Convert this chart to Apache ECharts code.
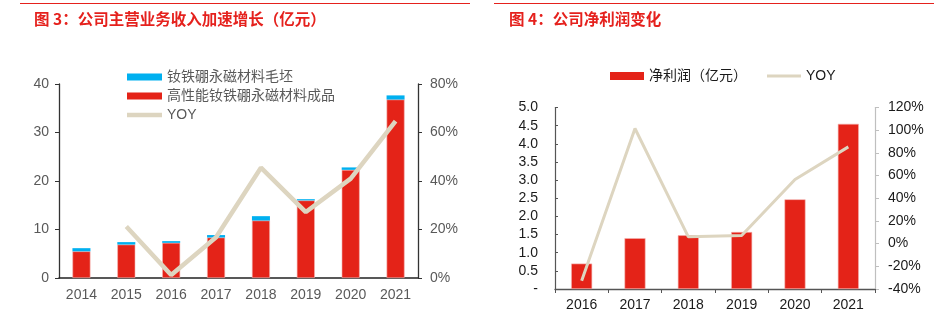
<!DOCTYPE html>
<html>
<head>
<meta charset="utf-8">
<script src="https://cdn.jsdelivr.net/npm/echarts/dist/echarts.min.js"></script>
<style>
html, body { margin: 0; padding: 0; background: #fff; }
#main { width: 934px; height: 321px; }
</style>
</head>
<body>
<div id="main"></div>
<script>
// Figure 3: main business revenue (100M CNY), stacked by product type, with YoY growth
const revenueYears = ['2014', '2015', '2016', '2017', '2018', '2019', '2020', '2021'];
const finishedValues = [5.5, 6.9, 7.25, 8.35, 11.85, 16.0, 22.3, 36.8];
const blankValues = [0.65, 0.5, 0.35, 0.5, 0.9, 0.25, 0.5, 0.85];
const revenueYoy = [null, 21.2, 1.2, 16.8, 45.5, 27.2, 41.0, 64.7];

// Figure 4: net profit (100M CNY) with YoY growth
const profitYears = ['2016', '2017', '2018', '2019', '2020', '2021'];
const netProfit = [0.7, 1.40, 1.48, 1.57, 2.47, 4.55];
const profitYoy = [-32.8, 101.5, 6.0, 7.2, 56.6, 85.3];

const RED = '#e42318';
const BLUE = '#00b0f0';
const TAN = '#ddd5c0';
const FONT = '"Liberation Sans", Arial, "Noto Sans CJK SC", sans-serif';
const GREY_TEXT = '#595959';
const DARK_TEXT = '#1a1a1a';

// thin horizontal bar used as the legend key for the growth lines
const lineKey = w => 'path://M0,0H35V' + w + 'H0Z';

const chart = echarts.init(document.getElementById('main'), null, { renderer: 'canvas' });

chart.setOption({
  animation: false,
  textStyle: { fontFamily: FONT },
  title: [
    {
      text: '图 3：公司主营业务收入加速增长（亿元）',
      left: 29, top: 6,
      textStyle: { color: '#e5211d', fontSize: 15.5, fontWeight: 'bold', fontFamily: '"Noto Sans CJK SC", sans-serif' }
    },
    {
      text: '图 4：公司净利润变化',
      left: 504, top: 6,
      textStyle: { color: '#e5211d', fontSize: 15.5, fontWeight: 'bold', fontFamily: '"Noto Sans CJK SC", sans-serif' }
    }
  ],
  graphic: [
    { type: 'line', shape: { x1: 20, y1: 3.5, x2: 470, y2: 3.5 }, style: { stroke: '#e5211d', lineWidth: 1.2 } },
    { type: 'line', shape: { x1: 494, y1: 3.5, x2: 934, y2: 3.5 }, style: { stroke: '#e5211d', lineWidth: 1.2 } }
  ],
  legend: [
    {
      orient: 'vertical',
      left: 122, top: 65,
      itemWidth: 35, itemHeight: 7, itemGap: 5,
      itemStyle: { borderWidth: 0 },
      textStyle: { color: GREY_TEXT, fontSize: 14, fontFamily: FONT },
      data: [
        { name: '钕铁硼永磁材料毛坯', icon: 'rect' },
        { name: '高性能钕铁硼永磁材料成品', icon: 'rect' },
        { name: 'YOY', icon: lineKey(4.5), itemStyle: { color: TAN, borderWidth: 0 } }
      ]
    },
    {
      orient: 'horizontal',
      left: 605, top: 64,
      itemWidth: 34, itemHeight: 8, itemGap: 20,
      itemStyle: { borderWidth: 0 },
      textStyle: { color: DARK_TEXT, fontSize: 14, fontFamily: FONT },
      data: [
        { name: '净利润（亿元）', icon: 'rect' },
        { name: 'YOY', icon: lineKey(3), itemStyle: { color: TAN, borderWidth: 0 } }
      ]
    }
  ],
  grid: [
    { left: 59, top: 84, width: 359, height: 194 },
    { left: 555, top: 107.5, width: 320, height: 181.5 }
  ],
  xAxis: [
    {
      type: 'category', gridIndex: 0, data: revenueYears,
      axisLine: { lineStyle: { color: '#222', width: 1.5 } },
      axisTick: { show: false },
      axisLabel: { color: GREY_TEXT, fontSize: 14, margin: 10 }
    },
    {
      type: 'category', gridIndex: 1, data: profitYears,
      axisLine: { lineStyle: { color: '#555', width: 1.3 } },
      axisTick: { show: true, length: 4, lineStyle: { color: '#555' } },
      axisLabel: { color: DARK_TEXT, fontSize: 14, margin: 9 }
    }
  ],
  yAxis: [
    {
      type: 'value', gridIndex: 0, position: 'left', min: 0, max: 40, interval: 10,
      axisLine: { show: true, lineStyle: { color: '#333', width: 1.3 } },
      axisTick: { show: true, length: 4, lineStyle: { color: '#333' } },
      splitLine: { show: false },
      axisLabel: { color: GREY_TEXT, fontSize: 14, margin: 10 }
    },
    {
      type: 'value', gridIndex: 0, position: 'right', min: 0, max: 80, interval: 20,
      axisLine: { show: true, lineStyle: { color: '#333', width: 1.3 } },
      axisTick: { show: true, length: 4, lineStyle: { color: '#333' } },
      splitLine: { show: false },
      axisLabel: { color: GREY_TEXT, fontSize: 14, margin: 12, formatter: '{value}%' }
    },
    {
      type: 'value', gridIndex: 1, position: 'left', min: 0, max: 5, interval: 0.5,
      axisLine: { show: true, lineStyle: { color: '#555', width: 1.2 } },
      axisTick: { show: true, inside: true, length: 3, lineStyle: { color: '#555' } },
      splitLine: { show: false },
      axisLabel: {
        color: DARK_TEXT, fontSize: 14, margin: 17,
        formatter: v => (v === 0 ? '-' : v.toFixed(1))
      }
    },
    {
      type: 'value', gridIndex: 1, position: 'right', min: -40, max: 120, interval: 20,
      axisLine: { show: true, lineStyle: { color: '#bfbfbf', width: 1.2 } },
      axisTick: { show: true, length: 4, lineStyle: { color: '#bfbfbf' } },
      splitLine: { show: false },
      axisLabel: { color: DARK_TEXT, fontSize: 14, margin: 13, formatter: '{value}%' }
    }
  ],
  series: [
    {
      name: '高性能钕铁硼永磁材料成品', type: 'bar', stack: 'revenue',
      xAxisIndex: 0, yAxisIndex: 0, barWidth: 18,
      itemStyle: { color: RED, borderColor: '#f4b3b0', borderWidth: 0.6 },
      data: finishedValues
    },
    {
      name: '钕铁硼永磁材料毛坯', type: 'bar', stack: 'revenue',
      xAxisIndex: 0, yAxisIndex: 0, barWidth: 18,
      itemStyle: { color: BLUE },
      data: blankValues
    },
    {
      name: 'YOY', type: 'line', xAxisIndex: 0, yAxisIndex: 1,
      symbol: 'none', lineStyle: { color: TAN, width: 4.5 }, itemStyle: { color: TAN },
      data: revenueYoy
    },
    {
      name: '净利润（亿元）', type: 'bar', xAxisIndex: 1, yAxisIndex: 2, barWidth: 21,
      itemStyle: { color: RED, borderColor: '#f4b3b0', borderWidth: 0.6 },
      data: netProfit
    },
    {
      name: 'YOY', type: 'line', xAxisIndex: 1, yAxisIndex: 3,
      symbol: 'none', lineStyle: { color: TAN, width: 3 }, itemStyle: { color: TAN },
      data: profitYoy
    }
  ]
});
</script>
</body>
</html>
